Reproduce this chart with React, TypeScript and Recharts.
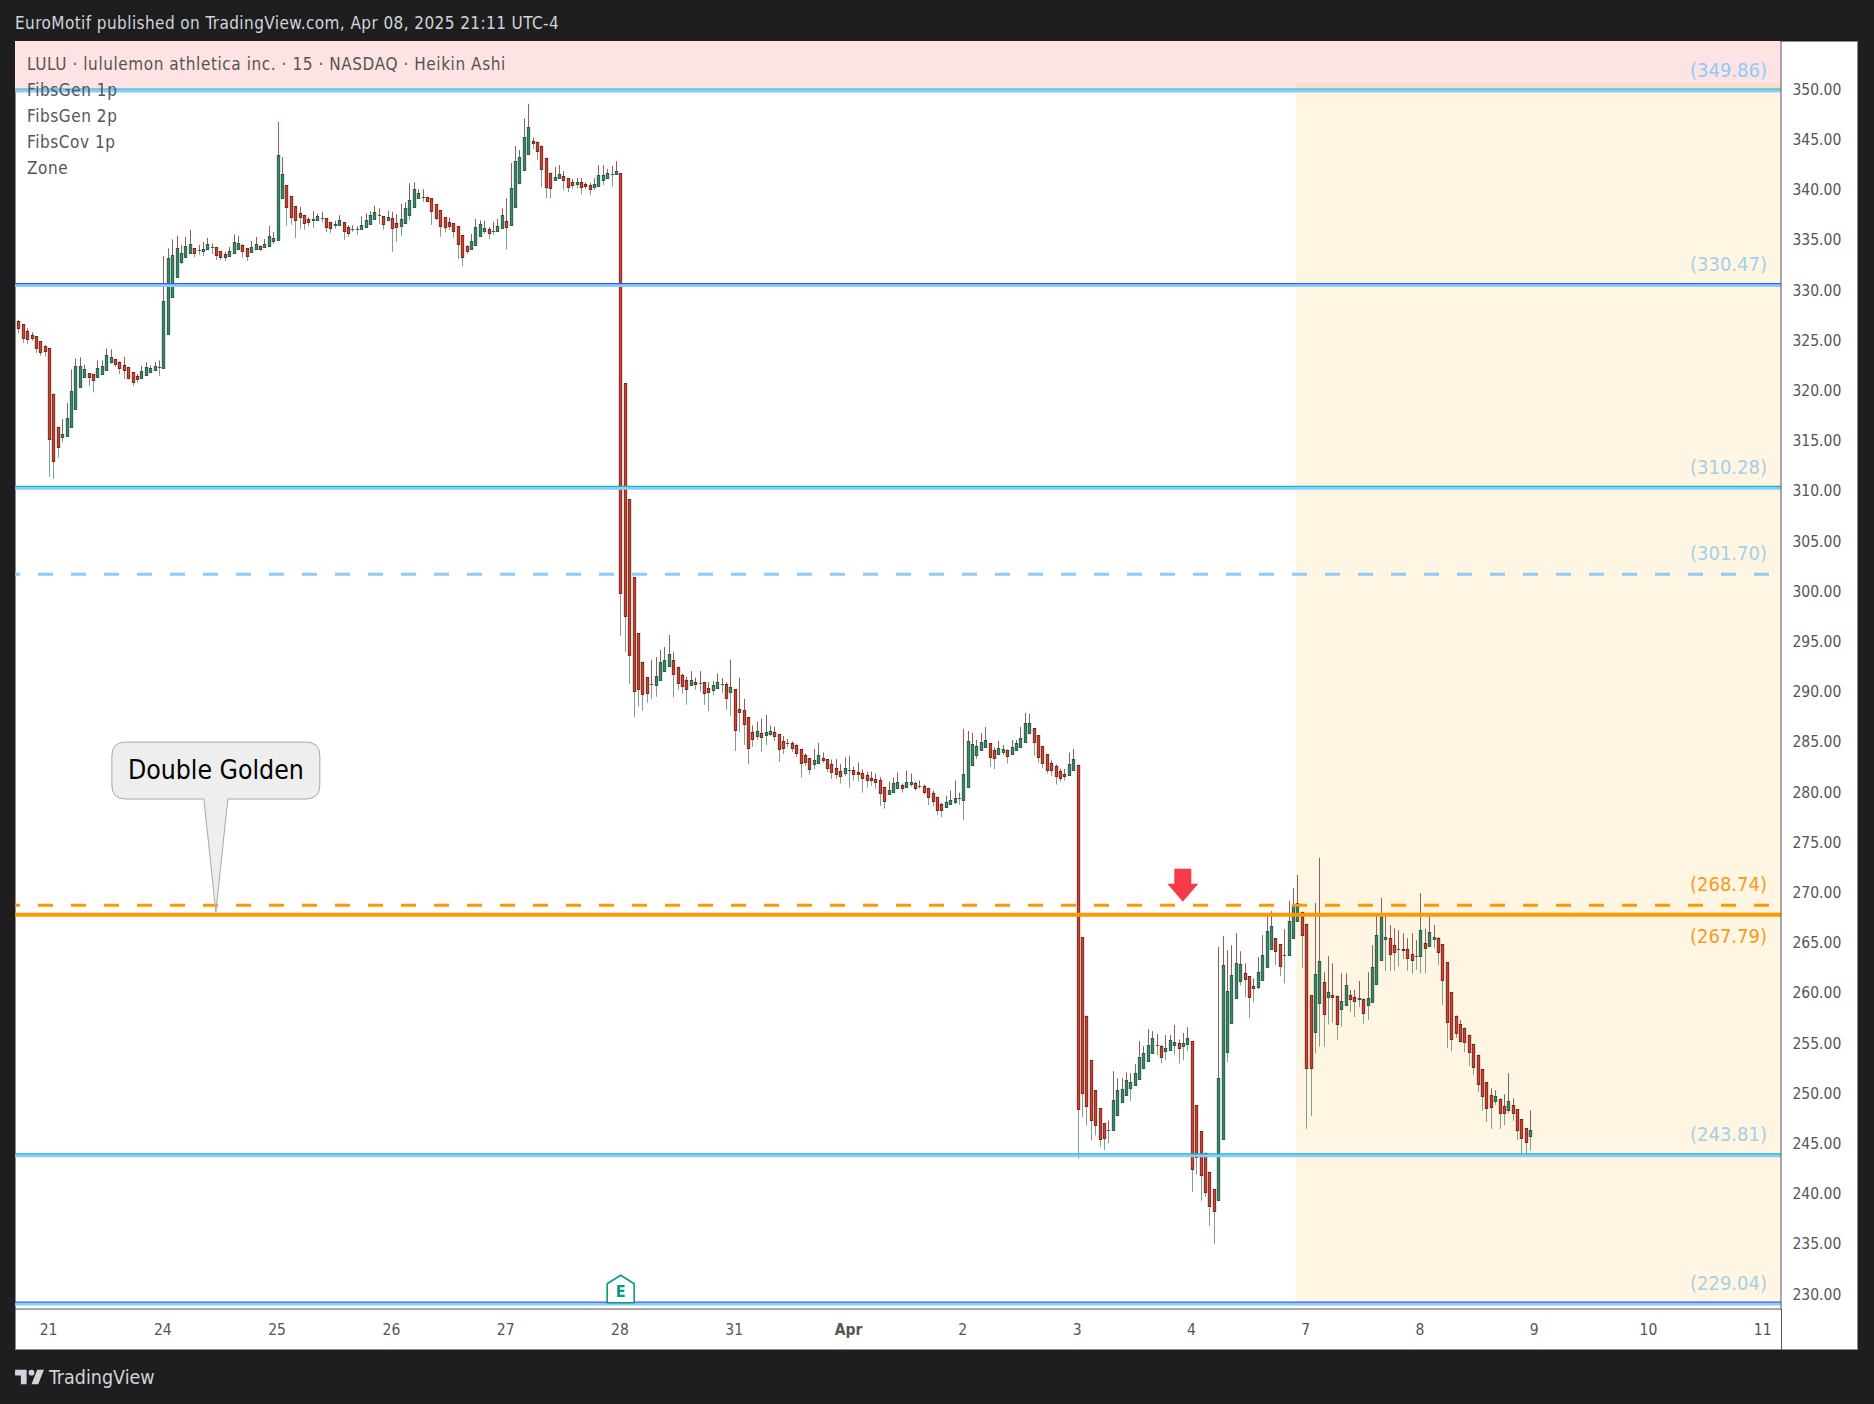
import React from "react";
import {
  ComposedChart,
  Bar,
  XAxis,
  YAxis,
  ReferenceLine,
  ReferenceArea,
  ReferenceDot,
} from "recharts";

// 15 minute Heikin Ashi bars, one line per session (26 bars), first line is the tail of Mar 20
const opens = [
  326.9,326.6,325.9,325.5,325.4,324.9,324.4,
  324.2,319.7,316.4,315.4,315.5,316.4,318.2,320.3,321.35,321.7,321.6,321.3,321.65,322.05,322.8,323.1,322.8,322.5,322.3,321.8,321.4,321.25,321.55,321.85,322.05,322.3,
  322.25,325.6,329.35,331.35,332.75,333.25,333.7,334.15,333.95,333.9,334.05,334.25,334.25,333.85,333.55,333.4,333.65,334.1,334.45,334.15,333.8,334.05,334.35,334.25,334.35,334.85,
  335.0,339.2,340.45,339.35,338.35,337.65,337.45,337.05,336.95,336.95,337.15,337.15,336.75,336.45,336.45,336.75,336.25,336.05,336.05,336.05,336.25,336.55,337.05,337.45,337.35,337.0,
  337.15,336.65,336.4,336.7,337.45,338.25,339.15,339.3,339.3,339.15,338.55,337.95,337.25,336.75,336.65,336.35,335.45,334.35,334.1,334.5,335.35,335.9,336.05,335.85,335.85,336.15,
  336.85,336.5,338.3,340.65,342.0,343.6,344.9,344.8,344.4,343.2,341.7,340.95,341.15,341.35,341.15,340.75,340.6,340.75,340.55,340.45,340.25,340.4,340.95,341.15,341.55,341.55,
  341.63,320.7,309.15,301.4,295.8,293.0,291.45,290.75,290.7,291.2,292.1,292.6,293.2,292.5,291.7,291.2,290.7,291.0,290.9,290.95,290.4,290.2,290.4,290.75,290.75,290.0,
  290.25,288.25,288.15,287.45,285.95,285.6,285.85,285.7,285.8,285.95,285.75,285.05,284.85,284.85,284.65,284.25,283.65,283.35,282.8,282.9,283.35,283.25,282.85,282.45,282.15,281.95,
  282.25,282.25,282.05,281.95,281.75,281.45,281.35,281.25,280.55,279.85,280.05,280.45,280.75,280.55,280.85,280.95,280.65,280.65,280.4,279.95,279.55,278.85,278.55,278.85,279.05,279.4,
  279.25,280.55,282.75,283.7,284.15,284.45,284.85,284.15,283.75,284.0,284.15,283.8,284.15,284.45,284.95,285.85,286.35,285.65,284.55,283.75,282.95,282.65,282.15,281.8,281.75,282.25,
  282.75,265.6,257.75,253.3,250.3,248.5,247.0,246.3,246.3,247.8,249.1,249.8,250.5,250.8,251.4,252.5,253.25,254.0,254.8,254.7,254.2,254.3,254.8,255.0,254.7,254.9,
  255.2,248.8,246.2,244.1,242.2,240.5,239.4,245.5,254.1,257.05,259.45,261.15,261.95,261.65,260.65,260.55,261.25,262.55,264.35,265.45,264.85,263.75,263.75,265.45,267.15,268.1,
  266.9,259.75,256.15,259.0,261.05,259.55,259.75,259.65,258.35,258.75,259.75,259.55,259.35,259.35,258.75,259.05,260.85,263.25,265.4,265.5,264.75,264.35,264.4,264.35,263.85,263.65,
  263.65,264.95,264.65,265.35,265.45,264.85,263.05,260.05,257.75,256.95,256.55,255.85,254.95,253.85,252.4,251.1,249.8,249.2,249.4,248.7,248.3,248.8,248.4,247.4,246.5,245.8,
];
const closes = [
  326.25,325.2,325.15,325.25,324.25,323.85,323.95,
  315.2,313.0,314.4,315.65,317.3,320.0,322.4,322.4,322.1,321.35,321.0,322.2,322.4,323.5,323.3,322.6,322.25,322.05,321.2,320.85,321.15,321.9,322.3,322.2,322.4,322.3,
  328.9,333.15,333.45,334.15,333.65,334.35,334.55,333.7,333.95,334.05,334.55,334.25,333.5,333.25,333.3,333.85,334.75,334.65,333.9,333.4,334.25,334.55,334.1,334.55,335.35,335.15,
  343.5,341.6,338.25,337.25,336.95,337.25,336.65,336.75,337.05,337.35,337.15,336.25,336.15,336.55,336.95,335.85,335.7,336.05,336.05,336.45,336.95,337.45,337.75,337.45,336.6,337.25,
  336.2,336.3,337.05,338.15,338.95,340.05,339.65,339.3,338.9,337.9,337.2,336.4,336.3,336.4,335.9,334.6,333.25,333.9,334.85,336.25,336.55,336.15,335.7,335.85,336.35,337.45,
  336.25,340.15,342.9,343.3,345.2,346.2,344.7,343.9,342.1,340.25,340.15,341.25,341.55,340.95,340.3,340.5,340.75,340.3,340.4,340.1,340.55,341.45,341.45,341.7,341.55,341.85,
  299.86,297.5,293.7,290.1,290.3,289.8,289.9,290.75,291.6,293.0,293.2,293.8,291.8,290.9,290.6,290.3,291.2,290.8,290.9,289.9,290.0,290.65,291.0,290.75,289.4,290.5,
  286.2,288.0,286.8,284.4,285.3,286.05,285.5,285.95,286.05,285.6,284.3,284.4,284.85,284.4,283.9,282.9,283.0,282.3,283.15,283.65,283.15,282.4,282.0,281.85,281.6,282.45,
  282.25,281.85,281.85,281.45,281.2,281.2,281.05,279.95,279.15,280.25,280.95,281.05,280.45,281.05,281.05,280.45,280.65,280.05,279.55,279.15,278.25,278.25,279.05,279.25,279.45,279.4,
  281.85,285.05,284.75,284.55,284.95,285.15,283.45,283.35,284.35,284.25,283.6,284.45,284.85,285.35,286.85,286.85,284.95,283.45,282.95,282.25,282.25,281.6,281.45,281.6,282.85,283.25,
  248.4,250.0,248.7,247.3,246.8,245.5,245.6,246.3,249.3,250.3,250.4,251.3,251.1,252.0,253.6,254.0,254.8,255.5,254.8,253.6,254.5,255.3,255.1,254.5,255.0,255.5,
  242.5,243.7,241.9,240.2,238.8,238.3,251.5,262.75,260.15,261.75,262.95,262.85,261.35,259.55,260.45,262.05,263.75,266.15,266.65,264.15,262.65,263.75,267.15,268.8,269.0,265.75,
  252.55,252.55,261.85,263.15,257.95,260.05,259.55,256.95,259.15,260.75,259.35,259.15,259.45,258.05,259.45,262.55,265.75,267.6,265.6,263.85,264.05,264.35,264.3,263.45,263.25,263.65,
  266.25,264.45,266.05,265.55,264.1,261.25,257.15,255.45,256.05,255.25,255.15,254.1,252.65,250.95,249.75,248.5,248.6,249.7,248.0,248.0,249.2,248.0,246.3,245.6,245.2,246.3,
];
const highs = [
  327.0,326.6,326.2,325.8,325.4,324.9,324.5,
  324.2,319.7,316.4,317.15,318.75,322.1,323.2,323.3,322.6,321.7,321.6,323.0,323.0,324.2,324.1,323.1,322.9,323.35,322.3,321.8,321.65,322.45,322.8,322.5,322.85,323.0,
  333.4,334.15,335.05,335.4,334.5,335.3,336.0,334.15,334.5,334.8,335.2,334.65,334.25,333.85,333.8,334.3,335.55,335.4,334.55,334.15,334.9,335.3,334.45,335.1,336.4,335.8,
  346.75,343.25,340.45,339.35,338.35,338.3,337.45,337.25,337.85,337.6,337.8,337.15,336.75,336.9,337.45,336.75,336.45,336.45,336.35,337.35,337.65,337.85,338.4,338.15,337.35,337.9,
  337.8,337.55,338.6,338.75,340.65,340.75,340.05,340.05,339.3,339.15,338.55,337.95,337.25,337.25,336.65,336.35,335.45,334.45,335.6,337.1,336.95,336.9,336.3,336.8,337.1,338.15,
  339.15,342.65,344.35,343.95,347.1,348.55,345.2,344.8,344.4,343.2,341.7,342.25,342.45,341.85,341.15,341.05,341.15,341.15,340.75,340.65,341.15,342.45,342.45,342.05,342.35,342.85,
  341.63,320.7,309.15,301.4,295.8,293.0,291.45,293.15,293.45,294.15,294.45,295.65,293.95,292.5,291.8,291.5,292.05,291.4,292.05,290.95,290.95,291.05,291.8,291.35,290.95,293.2,
  290.25,291.4,289.3,287.45,286.65,287.0,287.3,287.7,286.6,286.5,285.75,285.6,285.3,285.05,284.75,284.25,283.85,283.35,284.3,284.9,283.95,283.25,283.25,283.3,282.8,283.45,
  283.6,282.55,282.95,282.25,282.05,282.05,281.85,281.5,280.55,281.05,281.45,281.95,280.85,282.15,281.85,281.05,281.15,280.75,280.45,280.15,279.55,278.95,279.65,280.15,281.15,279.95,
  286.3,286.1,285.9,285.2,285.9,286.5,284.85,284.45,285.1,284.7,284.25,285.2,285.2,286.5,287.9,287.8,286.35,285.65,284.55,283.75,283.15,282.75,282.35,282.3,283.95,284.3,
  282.75,265.6,257.75,253.3,250.3,248.5,247.0,247.3,252.2,251.5,251.5,252.1,252.0,252.9,255.2,254.7,256.4,256.2,255.9,254.8,255.8,255.8,256.8,255.35,256.0,256.6,
  255.2,248.8,246.2,244.1,242.2,240.5,264.6,265.65,264.25,264.75,265.95,264.15,262.95,261.65,261.45,263.55,265.75,267.85,268.15,265.45,264.85,266.35,269.15,270.45,271.75,268.1,
  266.9,259.75,268.95,273.45,262.05,263.65,262.95,259.75,261.95,261.95,260.3,260.3,261.2,259.45,262.05,264.75,267.95,269.45,267.85,266.75,266.45,266.25,265.95,265.45,265.95,265.25,
  269.95,266.4,267.85,266.75,265.55,264.85,263.05,260.05,257.75,257.3,256.55,255.85,254.95,253.85,252.4,251.1,250.5,250.3,249.5,249.9,252.0,249.5,248.4,247.4,246.5,248.3,
];
const lows = [
  325.7,324.75,324.65,324.95,323.75,323.45,323.35,
  311.4,311.2,313.3,314.85,315.5,316.4,318.2,320.3,321.35,320.45,319.8,321.3,321.65,322.05,322.65,322.35,321.65,321.15,321.1,320.45,320.75,321.25,321.55,321.75,321.95,321.45,
  322.25,325.6,329.35,331.35,332.6,333.25,333.6,333.25,333.5,333.4,334.05,333.6,333.0,333.0,332.9,333.4,333.65,334.1,333.2,332.9,333.7,334.05,333.9,334.25,334.35,334.6,
  335.0,339.2,336.4,336.5,335.2,336.1,336.0,336.35,336.2,336.95,336.75,335.8,335.7,336.1,336.45,335.0,335.3,335.8,335.5,336.05,336.25,336.55,337.05,336.55,336.0,336.85,
  333.8,334.8,335.4,336.7,336.95,338.25,339.15,338.8,338.8,336.5,336.95,335.3,335.75,336.0,335.2,333.1,332.4,333.6,334.1,334.5,335.35,335.6,335.1,335.5,335.85,336.15,
  334.05,336.5,338.3,340.65,342.0,343.6,344.05,342.95,340.25,339.15,339.15,340.95,341.15,339.95,339.75,340.1,340.1,339.55,340.05,339.45,339.95,340.4,340.45,341.15,340.35,341.55,
  295.55,293.95,290.75,287.5,288.5,288.1,288.9,289.3,289.5,291.2,292.1,292.6,289.45,290.2,289.8,288.7,290.6,290.2,290.0,288.7,288.05,289.65,290.3,289.9,288.2,287.6,
  284.1,286.0,284.7,282.75,284.5,285.2,284.0,284.7,285.6,285.1,283.0,283.8,284.45,284.0,283.5,281.45,282.6,281.75,282.3,282.9,282.9,282.0,281.3,281.35,280.85,281.6,
  280.45,281.15,281.05,279.95,280.45,280.65,280.35,278.65,278.35,279.8,280.05,280.45,279.95,280.45,280.55,280.15,280.35,279.75,278.7,278.6,277.7,277.5,278.55,278.85,278.8,278.75,
  277.2,280.55,282.75,283.3,284.15,284.45,282.5,282.3,283.75,283.7,282.85,283.7,284.15,284.45,284.95,285.85,283.6,282.9,282.4,281.85,281.6,280.75,281.05,281.15,281.75,282.25,
  243.5,247.65,246.8,245.3,245.8,244.7,244.35,245.0,246.3,247.8,249.0,249.8,249.25,250.8,251.4,252.5,253.1,254.0,253.8,253.0,253.3,254.3,253.85,252.95,253.3,254.25,
  240.2,241.9,239.3,239.7,236.8,235.0,239.4,245.5,253.1,257.05,259.45,260.75,259.6,257.5,259.1,260.35,261.25,262.55,264.35,262.8,261.7,260.95,263.75,265.45,267.15,262.5,
  246.45,247.75,253.95,254.65,254.65,256.85,257.05,255.35,256.65,258.75,258.1,257.6,258.6,256.95,257.3,259.05,260.85,263.25,262.2,262.2,262.2,262.65,263.35,262.2,261.9,262.3,
  261.95,261.95,264.65,264.45,262.8,258.8,254.5,254.2,255.5,255.05,254.1,252.7,251.8,250.15,248.25,247.15,246.45,248.85,246.45,246.85,248.0,247.25,245.35,243.9,243.9,244.3,
];

// date axis: bar number of each session open
const dayBars = [8, 34, 60, 86, 112, 138, 164, 190, 216, 242, 268, 294, 320, 346, 372, 398];
const dayLabels = ["21", "24", "25", "26", "27", "28", "31", "Apr", "2", "3", "4", "7", "8", "9", "10", "11"];
const priceTicks = [230, 235, 240, 245, 250, 255, 260, 265, 270, 275, 280, 285, 290, 295, 300, 305, 310, 315, 320, 325, 330, 335, 340, 345, 350];

// fib levels, thin line colour
const zoneLevels = [349.86, 330.47, 310.28, 243.81, 229.04];
const zoneColors = ["#00bcd4", "#2962ff", "#00bcd4", "#00bcd4", "#2962ff"];
const DASHED_LEVEL = 301.7;
const ORANGE_DASHED = 268.74;
const ORANGE_SOLID = 267.79;

const legendLines = ["LULU · lululemon athletica inc. · 15 · NASDAQ · Heikin Ashi", "FibsGen 1p", "FibsGen 2p", "FibsCov 1p", "Zone"];

const FONT = '"DejaVu Sans Condensed", "DejaVu Sans", sans-serif';

const rows = opens.map((o, i) => ({
  t: i + 1,
  open: o,
  close: closes[i],
  high: highs[i],
  low: lows[i],
  range: [lows[i], highs[i]],
}));

function Candle(props: any) {
  const { x, y, width, height, payload } = props;
  const cx = Math.floor(x + width / 2) + 0.5;
  const perUnit = height / (payload.high - payload.low);
  const top = Math.max(payload.open, payload.close);
  const bot = Math.min(payload.open, payload.close);
  const bodyTop = Math.round(y + (payload.high - top) * perUnit) + 0.5;
  const bodyBot = Math.round(y + (payload.high - bot) * perUnit) + 0.5;
  const up = payload.close >= payload.open;
  const fill = up ? "#388a63" : "#d9402c";
  const edge = up ? "#215240" : "#691e14";
  return (
    <g>
      <line x1={cx} x2={cx} y1={y} y2={bodyTop} stroke="#8f5e5a" strokeWidth={1} />
      <line x1={cx} x2={cx} y1={bodyBot} y2={y + height} stroke="#7fa08f" strokeWidth={1} />
      <rect x={cx - 1.2} y={bodyTop} width={2.4} height={Math.max(bodyBot - bodyTop, 0.01)} fill={fill} stroke={edge} strokeWidth={0.9} />
    </g>
  );
}

function DayTick(props: any) {
  const { x, y, payload } = props;
  const i = dayBars.indexOf(payload.value);
  const label = dayLabels[i];
  return (
    <text x={x - 0.7} y={y + 15} textAnchor="middle" dominantBaseline="central" fontFamily={FONT} fontSize={15.5} fill="#555" fontWeight={label === "Apr" ? 700 : 400}>
      {label}
    </text>
  );
}

function PriceTick(props: any) {
  const { x, y, payload } = props;
  return (
    <text x={x + 3.5} y={y + 0.5} dominantBaseline="central" fontFamily={FONT} fontSize={15.5} fill="#555">
      {payload.value.toFixed(2)}
    </text>
  );
}

function levelLabel(text: string, color: string, below?: boolean) {
  return (props: any) => {
    const { viewBox } = props;
    return (
      <text x={viewBox.x + viewBox.width - 14} y={viewBox.y + (below ? 21 : -21)} textAnchor="end" dominantBaseline="central" fontFamily={FONT} fontSize={20} fill={color}>
        {text}
      </text>
    );
  };
}

function Balloon(props: any) {
  const { cx, cy } = props;
  const l = cx - 104;
  const r = cx + 104;
  const t = cy - 170;
  const b = cy - 113;
  return (
    <g>
      <path
        d={`M${l + 14} ${t} H${r - 14} Q${r} ${t} ${r} ${t + 14} V${b - 14} Q${r} ${b} ${r - 14} ${b} H${cx + 12} L${cx} ${cy} L${cx - 12} ${b} H${l + 14} Q${l} ${b} ${l} ${b - 14} V${t + 14} Q${l} ${t} ${l + 14} ${t} Z`}
        fill="#eeeeee"
        stroke="#a8a8ac"
        strokeWidth={1}
      />
      <text x={cx} y={t + 27.5} textAnchor="middle" dominantBaseline="central" fontFamily={FONT} fontSize={26.4} fill="#000">
        Double Golden
      </text>
    </g>
  );
}

function SignalArrow(props: any) {
  const { cx, cy } = props;
  return <path d={`M${cx - 8.5} ${cy - 33} H${cx + 8.5} V${cy - 18} H${cx + 15.5} L${cx} ${cy} L${cx - 15.5} ${cy - 18} H${cx - 8.5} Z`} fill="#f63a4a" />;
}

function EarningsMark(props: any) {
  const { cx, cy } = props;
  return (
    <g>
      <path
        d={`M${cx - 13.5} ${cy - 1} V${cy - 20} L${cx} ${cy - 28.5} L${cx + 13.5} ${cy - 20} V${cy - 1} Z`}
        fill="#fff"
        stroke="#089981"
        strokeWidth={1.6}
        strokeLinejoin="round"
      />
      <text x={cx} y={cy - 12} textAnchor="middle" dominantBaseline="central" fontFamily={FONT} fontSize={16} fontWeight={700} fill="#089981">
        E
      </text>
    </g>
  );
}

export default function App() {
  return (
    <div style={{ position: "absolute", left: 0, top: 0, width: 1874, height: 1404, background: "#1e1e1e", overflow: "hidden" }}>
      <div style={{ position: "absolute", left: 15, top: 13, color: "#d1d4dc", fontFamily: FONT, fontSize: 17, letterSpacing: 0.42, lineHeight: "20px", whiteSpace: "nowrap" }}>
        EuroMotif published on TradingView.com, Apr 08, 2025 21:11 UTC-4
      </div>
      <div style={{ position: "absolute", left: 15, top: 41, width: 1843, height: 1309, background: "#fff", boxSizing: "border-box", border: "1px solid #8a8a8a" }} />
      <div style={{ position: "absolute", left: 1781, top: 1309, width: 1, height: 41, background: "#555" }} />
      <div style={{ position: "absolute", left: 0, top: 0 }}>
        <ComposedChart width={1874} height={1404} data={rows} margin={{ top: 41, right: 16, bottom: 54, left: 15 }}>
          <XAxis
            type="number"
            dataKey="t"
            domain={[0.2, 402]}
            allowDataOverflow
            ticks={dayBars}
            interval={0}
            height={41}
            tickLine={false}
            tickMargin={0}
            tick={<DayTick />}
            axisLine={{ stroke: "#555" }}
          />
          <YAxis
            orientation="right"
            domain={[228.52, 354.81]}
            allowDataOverflow
            ticks={priceTicks}
            interval={0}
            width={77}
            tickLine={false}
            tick={<PriceTick />}
            axisLine={{ stroke: "#555" }}
          />
          <ReferenceArea y1={349.86} y2={354.81} fill="#fde3e4" fillOpacity={1} stroke="none" />
          {zoneLevels.map((lv) => (
            <ReferenceLine key={"band" + lv} y={lv - 0.02} stroke="#90caf9" strokeWidth={3} />
          ))}
          {zoneLevels.map((lv, i) => (
            <ReferenceLine key={"line" + lv} y={lv + 0.17} stroke={zoneColors[i]} strokeWidth={1.2} />
          ))}
          {/* the right hand axis makes these run right to left, hence the offset */}
          <ReferenceLine y={DASHED_LEVEL} stroke="#90caf9" strokeWidth={3} strokeDasharray="15 18" strokeDashoffset={21} />
          <ReferenceLine y={ORANGE_DASHED} stroke="#ff9800" strokeWidth={3} strokeDasharray="15 18" strokeDashoffset={21} />
          <ReferenceLine y={ORANGE_SOLID} stroke="#ff9800" strokeWidth={4} />
          <ReferenceArea x1={291.6} x2={402} y1={228.8} y2={350.63} fill="#ffa000" fillOpacity={0.11} stroke="none" />
          <Bar dataKey="range" barSize={3} isAnimationActive={false} shape={<Candle />} />
          <ReferenceLine y={349.86} stroke="none" label={levelLabel("(349.86)", "#90caf9")} />
          <ReferenceLine y={330.47} stroke="none" label={levelLabel("(330.47)", "#a6cfe8")} />
          <ReferenceLine y={310.28} stroke="none" label={levelLabel("(310.28)", "#a6cfe8")} />
          <ReferenceLine y={301.7} stroke="none" label={levelLabel("(301.70)", "#a6cfe8")} />
          <ReferenceLine y={268.74} stroke="none" label={levelLabel("(268.74)", "#f79a1e")} />
          <ReferenceLine y={267.79} stroke="none" label={levelLabel("(267.79)", "#f79a1e", true)} />
          <ReferenceLine y={243.81} stroke="none" label={levelLabel("(243.81)", "#a6cfe8")} />
          <ReferenceLine y={229.04} stroke="none" label={levelLabel("(229.04)", "#a6cfe8")} />
          <ReferenceDot x={45.9} y={268.06} r={1} shape={<Balloon />} />
          <ReferenceDot x={265.9} y={269.08} r={1} shape={<SignalArrow />} />
          <ReferenceDot x={138} y={229.04} r={1} shape={<EarningsMark />} />
        </ComposedChart>
      </div>
      {legendLines.map((line, i) => (
        <div key={line} style={{ position: "absolute", left: 27, top: 54 + i * 26, color: "#555", fontFamily: FONT, fontSize: 17, letterSpacing: 0.57, lineHeight: "20px", whiteSpace: "nowrap" }}>
          {line}
        </div>
      ))}
      <svg style={{ position: "absolute", left: 13, top: 1364 }} width={35} height={27} viewBox="0 0 36 28">
        <path d="M14 6H2v6h6v9h6V6Zm12 15h-7l6-15h7l-6 15Zm-7-9a3 3 0 1 0 0-6 3 3 0 0 0 0 6Z" fill="#d1d4dc" />
      </svg>
      <div style={{ position: "absolute", left: 49, top: 1366, color: "#d1d4dc", fontFamily: FONT, fontSize: 19.5, lineHeight: "24px", whiteSpace: "nowrap" }}>
        TradingView
      </div>
    </div>
  );
}
